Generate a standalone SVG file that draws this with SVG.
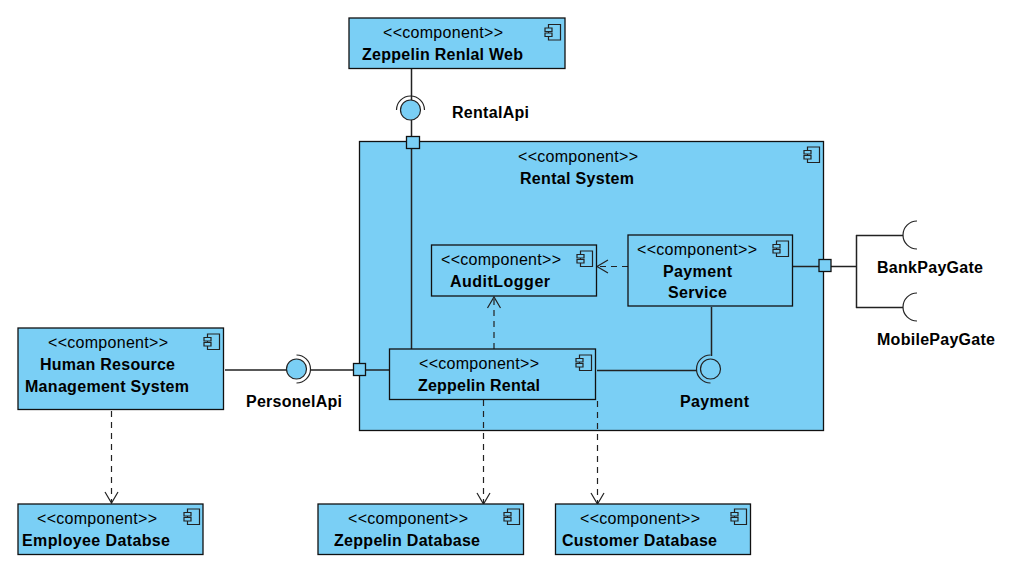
<svg xmlns="http://www.w3.org/2000/svg" width="1016" height="573" viewBox="0 0 1016 573">
<style>
text{font-family:"Liberation Sans",Arial,sans-serif;font-size:16px;fill:#000}
.b{font-weight:bold}
.n{fill:#7ACFF5;stroke:#111;stroke-width:1.3}
.l{fill:none;stroke:#222;stroke-width:1.5}
.d{fill:none;stroke:#222;stroke-width:1.2;stroke-dasharray:6 5}
.a{fill:none;stroke:#222;stroke-width:1.2}
.t{fill:none;stroke:#222;stroke-width:1.2}
.i{fill:#7ACFF5;stroke:#222;stroke-width:1.2}
</style>
<defs>
<g id="ic"><path class="i" d="M3.500 0H15.500V15.500H3.500Z"/><path class="i" d="M0 3.500H7V7H0Z"/><path class="i" d="M0 8.500H7V12H0Z"/></g>
</defs>
<rect width="1016" height="573" fill="#fff"/>
<g id="rental-system"><rect class="n" x="359.500" y="141.500" width="464" height="289"/><use href="#ic" x="804" y="147"/><text x="518" y="162" textLength="120">&lt;&lt;component&gt;&gt;</text><text class="b" x="520" y="184" textLength="114">Rental System</text></g>
<g id="connectors">
<path class="l" d="M411.500 69V100M411.500 120V137M411.500 148V349"/>
<path class="t" d="M396.500 110A14 14 0 0 1 424.500 110"/>
<path class="l" d="M225 370H286M311 370H354M365 370H390"/>
<path class="t" d="M296.500 355A14 14 0 0 1 296.500 383"/>
<path class="l" d="M597 370.500H697M711.500 307V356"/>
<path class="t" d="M710.500 355A14 14 0 0 0 710.500 383"/>
<path class="l" d="M793 266.500H819M830 266.500H856.500M856.500 235V308M856 235.500H903M856 307.500H903"/>
<path class="t" d="M917 221A14 14 0 0 0 917 249M917 293A14 14 0 0 0 917 321"/>
<path class="d" d="M628 266.500H598"/><path class="a" d="M608 260L597 266.500L608 273"/>
<path class="d" d="M494 349V298"/><path class="a" d="M487.500 308L494 297L500.500 308"/>
<path class="d" d="M483.500 400V503"/><path class="a" d="M477 493L483.500 504L490 493"/>
<path class="d" d="M597.500 401V503"/><path class="a" d="M591 493L597.500 504L604 493"/>
<path class="d" d="M111.500 411V502"/><path class="a" d="M105 492L111.500 503L118 492"/>
</g>
<g id="port-top"><rect class="n" x="406.500" y="136.500" width="13" height="12"/></g>
<g id="port-left"><rect class="n" x="353.500" y="363.500" width="12" height="12"/></g>
<g id="port-right"><rect class="n" x="819" y="259.500" width="12" height="12"/></g>
<g id="rental-api"><circle class="i" cx="410.500" cy="110" r="10"/><text class="b" x="452" y="118" textLength="77">RentalApi</text></g>
<g id="personel-api"><circle class="i" cx="296.500" cy="369" r="10"/><text class="b" x="246" y="407" textLength="96">PersonelApi</text></g>
<g id="payment-iface"><circle class="i" cx="710.500" cy="369" r="10"/><text class="b" x="680" y="407" textLength="69">Payment</text></g>
<g id="bank"><text class="b" x="877" y="273" textLength="106">BankPayGate</text></g>
<g id="mobile"><text class="b" x="877" y="345" textLength="118">MobilePayGate</text></g>
<g id="web"><rect class="n" x="349" y="18" width="216" height="50.500"/><use href="#ic" x="545" y="24.500"/><text x="383" y="38" textLength="120">&lt;&lt;component&gt;&gt;</text><text class="b" x="362" y="60" textLength="161">Zeppelin Renlal Web</text></g>
<g id="audit"><rect class="n" x="431.500" y="245" width="165" height="51"/><use href="#ic" x="577" y="251"/><text x="441" y="265" textLength="120">&lt;&lt;component&gt;&gt;</text><text class="b" x="450" y="287" textLength="100">AuditLogger</text></g>
<g id="payment"><rect class="n" x="628" y="235" width="164.500" height="71"/><use href="#ic" x="773" y="241"/><text x="637" y="255" textLength="120">&lt;&lt;component&gt;&gt;</text><text class="b" x="663" y="277" textLength="69">Payment</text><text class="b" x="668" y="298" textLength="59">Service</text></g>
<g id="zeppelin-rental"><rect class="n" x="389.500" y="349" width="206" height="50.500"/><use href="#ic" x="576" y="355"/><text x="419" y="369" textLength="120">&lt;&lt;component&gt;&gt;</text><text class="b" x="418" y="391" textLength="122">Zeppelin Rental</text></g>
<g id="hr"><rect class="n" x="18" y="328" width="205.500" height="81.500"/><use href="#ic" x="204" y="334"/><text x="48" y="348" textLength="120">&lt;&lt;component&gt;&gt;</text><text class="b" x="40" y="370" textLength="135">Human Resource</text><text class="b" x="25" y="392" textLength="164">Management System</text></g>
<g id="employee-db"><rect class="n" x="18" y="504" width="185" height="50.500"/><use href="#ic" x="184" y="509"/><text x="37" y="524" textLength="120">&lt;&lt;component&gt;&gt;</text><text class="b" x="22" y="546" textLength="148">Employee Databse</text></g>
<g id="zeppelin-db"><rect class="n" x="318" y="504" width="205.500" height="50.500"/><use href="#ic" x="504" y="509"/><text x="348" y="524" textLength="120">&lt;&lt;component&gt;&gt;</text><text class="b" x="334" y="546" textLength="146">Zeppelin Database</text></g>
<g id="customer-db"><rect class="n" x="555.500" y="504" width="195" height="50.500"/><use href="#ic" x="731" y="509"/><text x="580" y="524" textLength="120">&lt;&lt;component&gt;&gt;</text><text class="b" x="562" y="546" textLength="155">Customer Database</text></g>
</svg>
